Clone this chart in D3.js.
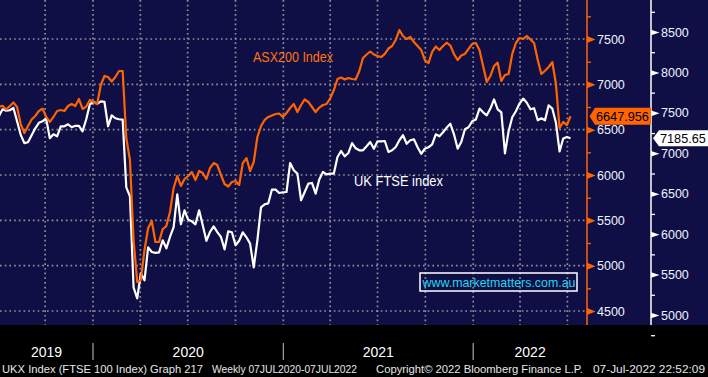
<!DOCTYPE html>
<html>
<head>
<meta charset="utf-8">
<script src="https://cdn.jsdelivr.net/npm/d3@7"></script>
<style>
body { margin: 0; background: #000; }
svg { display: block; font-family: "Liberation Sans", Arial, sans-serif; }
</style>
</head>
<body>
<div id="chart_div"></div>
<script>
// weekly closes, last one on 07-Jul-2022
var lastDate = new Date(2022, 6, 7);

var asxValues = [
  6750, 6763, 6722, 6761, 6800, 6750, 6562, 6463, 6540, 6612,
  6651, 6706, 6733, 6640, 6585, 6640, 6706, 6717, 6706, 6761,
  6783, 6761, 6838, 6728, 6755, 6827, 6805, 6783, 6993, 7092,
  7081, 7031, 7081, 7147, 7147, 6408, 6165, 5283, 4820, 4842,
  5173, 5415, 5493, 5261, 5261, 5404, 5437, 5592, 5857, 5989,
  5879, 5956, 5989, 6033, 5945, 6044, 6022, 5956, 6077, 6132,
  6110, 6000, 5901, 5873, 5923, 5934, 5890, 6132, 6187, 6044,
  6143, 6419, 6540, 6607, 6640, 6656, 6673, 6678, 6640, 6684,
  6739, 6783, 6695, 6772, 6833, 6805, 6750, 6695, 6744, 6772,
  6783, 6846, 6937, 7059, 7075, 7053, 7070, 7059, 7053, 7147,
  7290, 7329, 7362, 7329, 7312, 7301, 7335, 7395, 7423, 7489,
  7599, 7533, 7500, 7522, 7467, 7423, 7379, 7268, 7235, 7357,
  7417, 7379, 7423, 7459, 7428, 7335, 7268, 7318, 7335, 7390,
  7445, 7456, 7379, 7202, 7026, 7092, 7202, 7239, 7037, 7103,
  7114, 7335, 7456, 7511, 7502, 7533, 7494, 7456, 7268, 7114,
  7150, 7191, 7246, 7004, 6518, 6585, 6551, 6647.956
];

var ftseValues = [
  7458, 7544, 7526, 7532, 7560, 7396, 7229, 7126, 7136, 7223,
  7309, 7377, 7396, 7427, 7186, 7235, 7210, 7334, 7334, 7359,
  7322, 7340, 7340, 7272, 7421, 7606, 7637, 7612, 7643, 7637,
  7334, 7470, 7433, 7421, 7417, 6579, 6468, 5342, 5206, 5516,
  5429, 5837, 5779, 5769, 5775, 5924, 5825, 5965, 6088, 6493,
  6122, 6295, 6177, 6159, 6122, 6295, 6109, 5918, 6029, 6097,
  6026, 5965, 5812, 6035, 6023, 5862, 5918, 6023, 5961, 5883,
  5590, 5924, 6332, 6369, 6381, 6551, 6551, 6509, 6518, 6521,
  6880, 6790, 6749, 6419, 6521, 6625, 6633, 6501, 6675, 6769,
  6740, 6749, 6749, 6954, 7028, 6963, 7004, 7127, 7062, 7037,
  7037, 7087, 7140, 7056, 7148, 7148, 7152, 7016, 7037, 7078,
  7161, 7223, 7118, 7161, 7173, 7074, 6994, 7056, 7074, 7111,
  7235, 7210, 7260, 7318, 7365, 7235, 7058, 7140, 7297, 7322,
  7396, 7417, 7553, 7507, 7470, 7553, 7666, 7544, 7505, 7000,
  7272, 7445, 7520, 7615, 7677, 7625, 7544, 7557, 7408, 7433,
  7408, 7594, 7553, 7377, 7022, 7182, 7202, 7185.65
];

var asxTicks  = [4500, 5000, 5500, 6000, 6500, 7000, 7500];
var asxMinor  = [4750, 5250, 5750, 6250, 6750, 7250, 7750];
var ftseTicks = [5000, 5500, 6000, 6500, 7000, 7500, 8000, 8500];
var ftseMinor = [4750, 5250, 5750, 6250, 6750, 7250, 7750, 8250, 8750];
var yearLabels = ['2019', '2020', '2021', '2022'];
var seriesNames = ['ASX200 Index', 'UK FTSE index'];
var footerText = ['UKX Index (FTSE 100 Index) Graph 217', 'Weekly 07JUL2020-07JUL2022',
                  'Copyright\u00a9 2022 Bloomberg Finance L.P.', '07-Jul-2022 22:52:09'];

function makeChart() {
  const W = 708, H = 377, plotW = 587, plotH = 325;
  const orange = '#ff6400', navy = '#100f45', grid = '#8e8e9a';

  var dates = asxValues.map(function (d, i) {
    return d3.timeDay.offset(lastDate, -7 * (asxValues.length - 1 - i));
  });

  var xScale = d3.scaleTime()
      .domain([new Date(2020, 0, 1), lastDate])
      .range([93, 570.5]);
  var yAsx = d3.scaleLinear().domain([4500, 7500]).range([311, 39]);
  var yFtse = d3.scaleLinear().domain([5000, 8500]).range([315, 32]);

  var svg = d3.select('#chart_div').append('svg')
      .attr('width', W)
      .attr('height', H);

  svg.append('rect').attr('width', W).attr('height', H).attr('fill', '#000');
  svg.append('rect').attr('width', W).attr('height', plotH).attr('fill', navy);

  svg.append('clipPath').attr('id', 'plotclip')
    .append('rect').attr('width', plotW).attr('height', plotH);

  // dotted grid
  var xStart = xScale.invert(0), xEnd = xScale.invert(plotW);
  var quarters = d3.timeMonth.every(3).range(xStart, xEnd);

  svg.append('g').selectAll('line')
    .data(asxTicks)
    .enter().append('line')
    .attr('x1', 0).attr('x2', plotW)
    .attr('y1', function (d) { return yAsx(d); })
    .attr('y2', function (d) { return yAsx(d); })
    .attr('stroke', grid).attr('stroke-width', 1.7)
    .attr('stroke-dasharray', '1.7,3');

  svg.append('g').selectAll('line')
    .data(quarters)
    .enter().append('line')
    .attr('x1', function (d) { return xScale(d); })
    .attr('x2', function (d) { return xScale(d); })
    .attr('y1', 0).attr('y2', plotH)
    .attr('stroke', grid).attr('stroke-width', 1.7)
    .attr('stroke-dasharray', '1.7,3');

  // series
  var lineAsx = d3.line()
      .x(function (d, i) { return xScale(dates[i]); })
      .y(function (d) { return yAsx(d); });
  var lineFtse = d3.line()
      .x(function (d, i) { return xScale(dates[i]); })
      .y(function (d) { return yFtse(d); });

  var plot = svg.append('g').attr('clip-path', 'url(#plotclip)');
  plot.append('path')
    .datum(ftseValues)
    .attr('fill', 'none').attr('stroke', '#fff').attr('stroke-width', 2.2)
    .attr('stroke-linejoin', 'round')
    .attr('d', lineFtse);
  plot.append('path')
    .datum(asxValues)
    .attr('fill', 'none').attr('stroke', orange).attr('stroke-width', 2.2)
    .attr('stroke-linejoin', 'round')
    .attr('d', lineAsx);

  // ASX axis (orange)
  svg.append('line')
    .attr('x1', plotW).attr('x2', plotW).attr('y1', 0).attr('y2', plotH)
    .attr('stroke', orange).attr('stroke-width', 1.5);

  var asxMinorAxis = svg.append('g')
      .attr('transform', `translate(${plotW}, 0)`)
      .call(d3.axisRight(yAsx).tickValues(asxMinor).tickSize(4).tickFormat(''));
  asxMinorAxis.select('.domain').remove();
  asxMinorAxis.selectAll('line').attr('stroke', orange).attr('stroke-width', 1.3);

  var asxAxis = svg.append('g')
      .attr('transform', `translate(${plotW}, 0)`)
      .call(d3.axisRight(yAsx).tickValues(asxTicks).tickSize(0).tickPadding(10).tickFormat(d3.format('d')));
  asxAxis.select('.domain').remove();
  asxAxis.selectAll('.tick').append('path')
    .attr('d', 'M0,-3.5L8.5,0L0,3.5Z')
    .attr('fill', orange);
  asxAxis.selectAll('text')
    .attr('fill', '#eef2ff').style('font-size', '12.5px')
    .style('font-family', '"Liberation Sans", Arial, sans-serif');

  // FTSE axis (white)
  var xF = 651;
  svg.append('line')
    .attr('x1', xF).attr('x2', xF).attr('y1', 0).attr('y2', plotH)
    .attr('stroke', '#fff').attr('stroke-width', 1.5);

  var ftseMinorAxis = svg.append('g')
      .attr('transform', `translate(${xF}, 0)`)
      .call(d3.axisRight(yFtse).tickValues(ftseMinor).tickSize(4).tickFormat(''));
  ftseMinorAxis.select('.domain').remove();
  ftseMinorAxis.selectAll('line').attr('stroke', '#fff').attr('stroke-width', 1.3);

  var ftseAxis = svg.append('g')
      .attr('transform', `translate(${xF}, 0)`)
      .call(d3.axisRight(yFtse).tickValues(ftseTicks).tickSize(0).tickPadding(10).tickFormat(d3.format('d')));
  ftseAxis.select('.domain').remove();
  ftseAxis.selectAll('.tick').append('path')
    .attr('d', 'M0,-2.8L8.5,0L0,2.8Z')
    .attr('fill', '#fff');
  ftseAxis.selectAll('text')
    .attr('fill', '#eef2ff').style('font-size', '12.5px')
    .style('font-family', '"Liberation Sans", Arial, sans-serif');

  // last value tags
  var ya = yAsx(asxValues[asxValues.length - 1]);
  svg.append('path')
    .attr('d', `M${plotW + 2.5},${ya}L${plotW + 8},${ya - 8.5}L${xF},${ya - 8.5}L${xF},${ya + 8.5}L${plotW + 8},${ya + 8.5}Z`)
    .attr('fill', orange);
  svg.append('text')
    .attr('x', plotW + 9).attr('y', ya).attr('dy', '0.36em')
    .style('font-size', '12.7px').attr('fill', '#000')
    .text(d3.format('.3f')(asxValues[asxValues.length - 1]));

  var yf = yFtse(ftseValues[ftseValues.length - 1]);
  svg.append('path')
    .attr('d', `M${xF + 2},${yf}L${xF + 8},${yf - 8}L${W},${yf - 8}L${W},${yf + 8}L${xF + 8},${yf + 8}Z`)
    .attr('fill', '#fff');
  svg.append('text')
    .attr('x', xF + 9).attr('y', yf).attr('dy', '0.36em')
    .style('font-size', '12.7px').attr('fill', '#000')
    .text(d3.format('.2f')(ftseValues[ftseValues.length - 1]));

  // series labels
  svg.append('text')
    .attr('x', 253).attr('y', 62)
    .attr('fill', '#ff7310').style('font-size', '14.5px')
    .attr('textLength', 80).attr('lengthAdjust', 'spacingAndGlyphs')
    .text(seriesNames[0]);
  svg.append('text')
    .attr('x', 354).attr('y', 186)
    .attr('fill', '#fff').style('font-size', '15px')
    .attr('textLength', 89).attr('lengthAdjust', 'spacingAndGlyphs')
    .text(seriesNames[1]);

  // watermark box
  svg.append('rect')
    .attr('x', 420).attr('y', 273).attr('width', 157).attr('height', 18)
    .attr('fill', 'none').attr('stroke', '#fff').attr('stroke-width', 1.5);
  svg.append('text')
    .attr('x', 422.5).attr('y', 287)
    .attr('fill', '#22d6ee').style('font-size', '13px')
    .attr('textLength', 153).attr('lengthAdjust', 'spacingAndGlyphs')
    .text('www.marketmatters.com.au');

  // year axis
  var yearStarts = d3.timeYear.range(d3.timeYear.floor(xStart), xEnd);
  var yearSeps = yearStarts.filter(function (d) { return d > xStart; });
  svg.append('g').selectAll('line')
    .data(yearSeps)
    .enter().append('line')
    .attr('x1', function (d) { return xScale(d); })
    .attr('x2', function (d) { return xScale(d); })
    .attr('y1', 343).attr('y2', 360)
    .attr('stroke', '#9a9a9a').attr('stroke-width', 1.3);

  svg.append('g').selectAll('text')
    .data(yearStarts)
    .enter().append('text')
    .attr('x', function (d) {
      var a = Math.max(0, xScale(d));
      var b = Math.min(plotW, xScale(d3.timeYear.offset(d, 1)));
      return (a + b) / 2;
    })
    .attr('y', 357)
    .attr('text-anchor', 'middle')
    .attr('fill', '#fff').style('font-size', '14px')
    .text(function (d, i) { return yearLabels[i]; });

  // footer
  var footX = [2, 212, 376, 593], footW = [201, 145, 207, 112];
  svg.append('g').selectAll('text')
    .data(footerText)
    .enter().append('text')
    .attr('x', function (d, i) { return footX[i]; })
    .attr('y', 373)
    .attr('textLength', function (d, i) { return footW[i]; })
    .attr('lengthAdjust', 'spacingAndGlyphs')
    .attr('fill', '#e6e6e6').style('font-size', '11.5px')
    .text(function (d) { return d; });
}

makeChart();
</script>
</body>
</html>
